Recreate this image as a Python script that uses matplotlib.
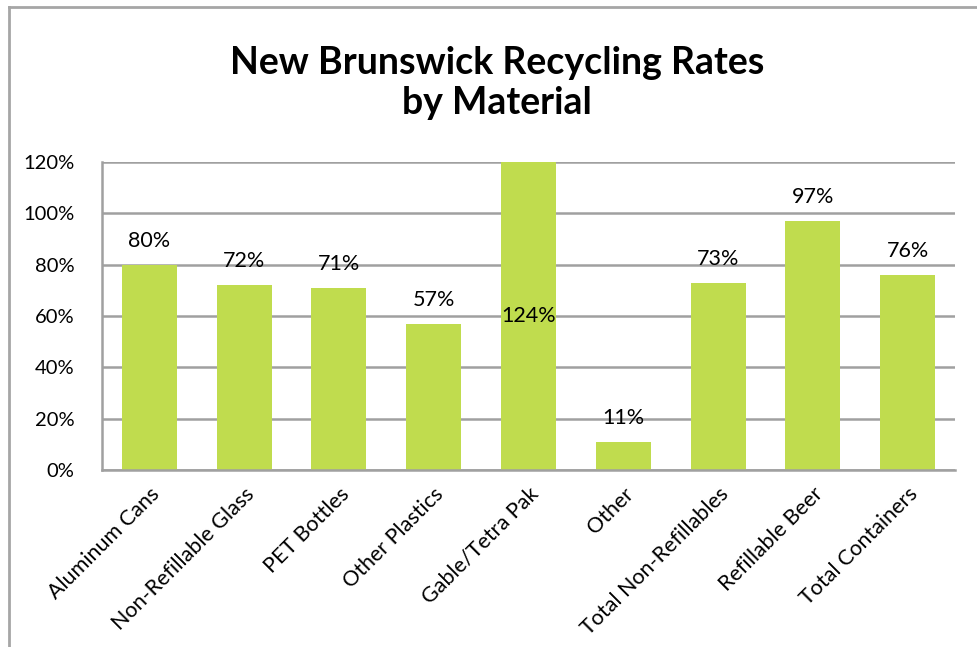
import matplotlib
matplotlib.use("Agg")
import matplotlib.pyplot as plt
from matplotlib.lines import Line2D

categories = ["Aluminum Cans", "Non-Refillable Glass", "PET Bottles", "Other Plastics",
              "Gable/Tetra Pak", "Other", "Total Non-Refillables", "Refillable Beer",
              "Total Containers"]
values = [80, 72, 71, 57, 124, 11, 73, 97, 76]
yticks = [0, 20, 40, 60, 80, 100, 120]
title = "New Brunswick Recycling Rates\nby Material"

plt.rcParams['font.family'] = ['Lato', 'DejaVu Sans']

W, H = 977, 647
fig = plt.figure(figsize=(W/100, H/100), dpi=100)
ax = fig.add_axes([102/W, 1-470/H, (955-102)/W, (470-162)/H])

bar_color = "#C0DC4E"
grid_color = "#A0A0A0"
fs = 15.5
x = list(range(len(categories)))
ax.bar(x, values, width=0.58, color=bar_color, zorder=2)
ax.set_xlim(-0.5, len(categories)-0.5)
ax.set_ylim(0, 120)
ax.set_yticks(yticks)
ax.set_yticklabels([f"{v}%" for v in yticks], fontsize=14.5)
for t in yticks:
    ax.axhline(t, color=grid_color, lw=1.8, zorder=1)
ax.tick_params(axis='y', length=0, pad=20)
ax.tick_params(axis='x', length=0, pad=10)
ax.set_xticks(x)
ax.set_xticklabels(categories, rotation=45, ha='right', rotation_mode='anchor', fontsize=fs)
for s in ['top', 'right']:
    ax.spines[s].set_visible(False)
ax.spines['left'].set_color(grid_color)
ax.spines['left'].set_linewidth(1.8)
ax.spines['bottom'].set_color(grid_color)
ax.spines['bottom'].set_linewidth(1.8)

for xi, v in zip(x, values):
    if v > 120:
        ax.text(xi, 60, f"{v}%", ha='center', va='center', fontsize=fs, zorder=3)
    else:
        ax.annotate(f"{v}%", (xi, v), xytext=(0, 24), textcoords='offset pixels',
                    ha='center', va='center', fontsize=fs, zorder=3)

fig.text(497/W, 1-83/H, title, ha='center', va='center', fontsize=27,
         fontweight='bold', linespacing=1.2)

# chart border (left and top edges visible)
fig.add_artist(Line2D([9/W, 9/W], [0, 1-7/H], transform=fig.transFigure,
                      color="#A6A6A6", lw=2))
fig.add_artist(Line2D([9/W, 1], [1-7/H, 1-7/H], transform=fig.transFigure,
                      color="#A6A6A6", lw=2))

fig.savefig("out.png", dpi=100)
